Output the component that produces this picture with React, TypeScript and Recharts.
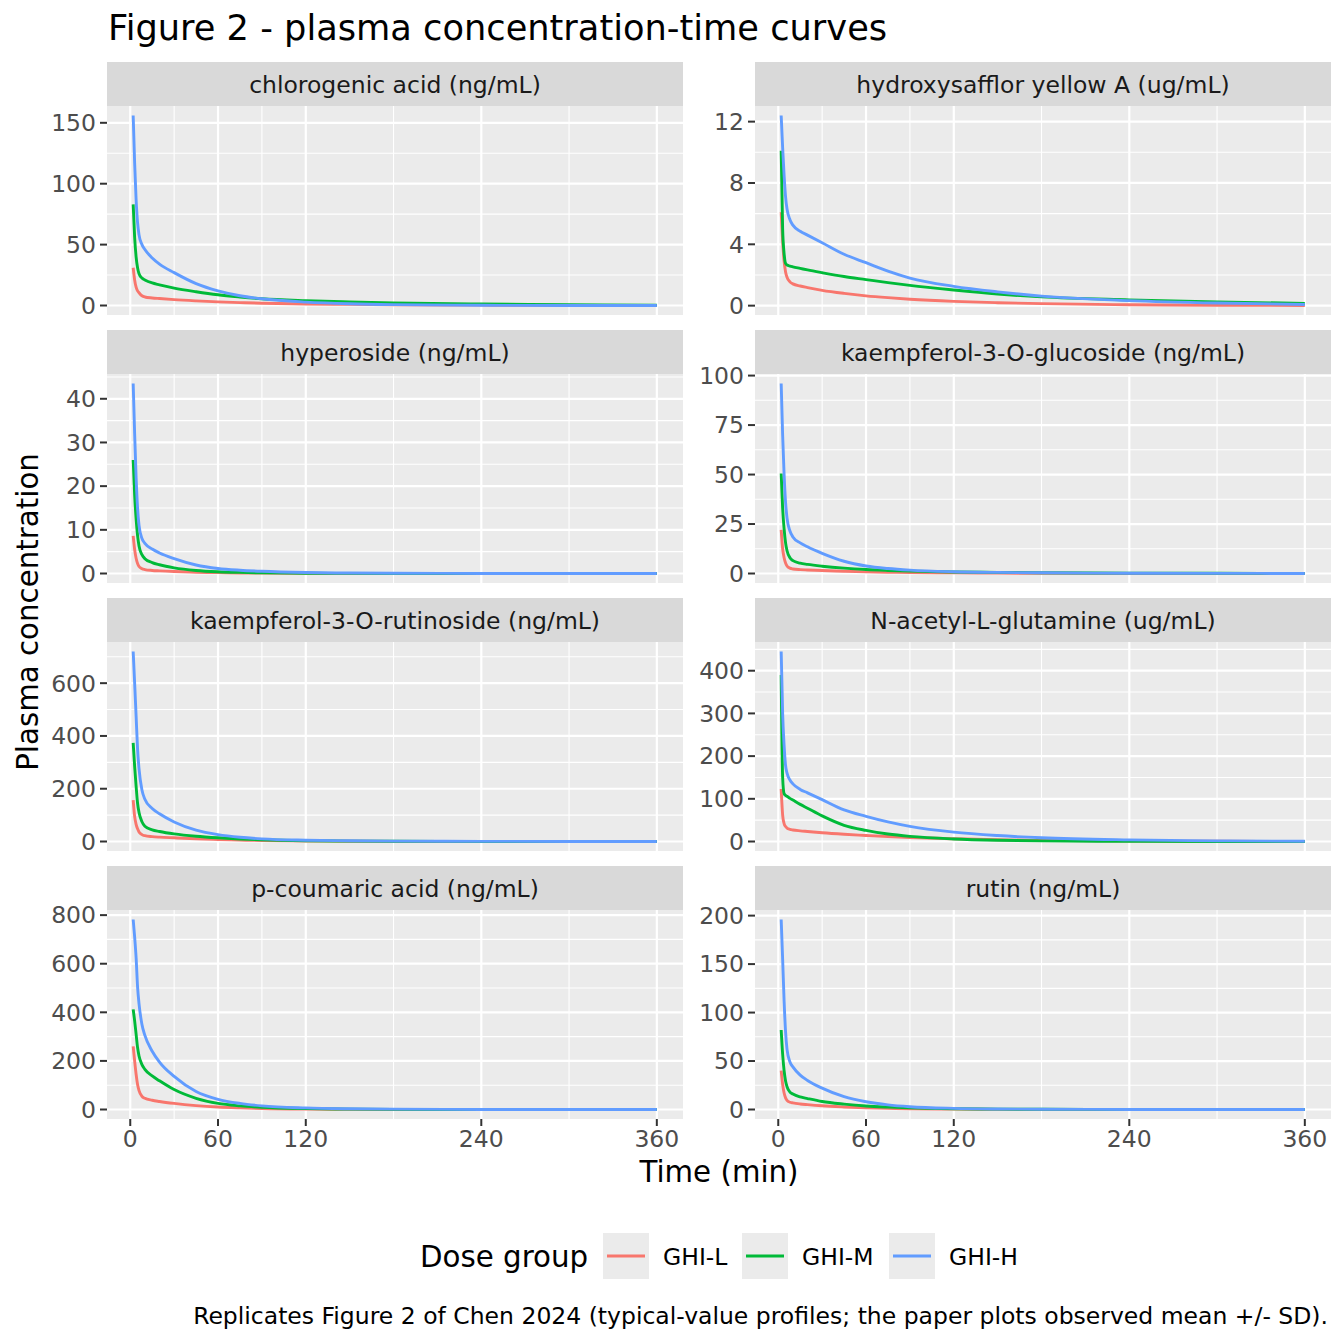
import React from 'react';
import { CartesianGrid, Line, LineChart, XAxis, YAxis } from 'recharts';

// Time grid (min) that the profiles were read at
const TIMES = [2, 3, 4, 5, 6, 8, 10, 15, 20, 30, 45, 60, 75, 90, 120, 150, 180, 240, 300, 360];
const X_TICKS = [0, 60, 120, 240, 360];

const GROUPS = ['GHI-L', 'GHI-M', 'GHI-H'];
const COLORS = ['#F8766D', '#00BA38', '#619CFF'];

const PANEL_TITLES = [
  'chlorogenic acid (ng/mL)',
  'hydroxysafflor yellow A (ug/mL)',
  'hyperoside (ng/mL)',
  'kaempferol-3-O-glucoside (ng/mL)',
  'kaempferol-3-O-rutinoside (ng/mL)',
  'N-acetyl-L-glutamine (ug/mL)',
  'p-coumaric acid (ng/mL)',
  'rutin (ng/mL)',
];

const Y_TICKS = [
  [0, 50, 100, 150],
  [0, 4, 8, 12],
  [0, 10, 20, 30, 40],
  [0, 25, 50, 75, 100],
  [0, 200, 400, 600],
  [0, 100, 200, 300, 400],
  [0, 200, 400, 600, 800],
  [0, 50, 100, 150, 200],
];

// chlorogenic acid
const chlorogenicL = [31, 21, 15, 12, 10.5, 8, 7, 6.2, 5.7, 4.8, 3.8, 3, 2.4, 1.9, 1.3, 0.9, 0.6, 0.3, 0.15, 0.07];
const chlorogenicM = [83, 56, 40, 31, 26, 22.5, 21, 18.5, 17, 14.3, 11.3, 8.8, 7, 5.5, 3.9, 2.9, 2.2, 1.2, 0.6, 0.3];
const chlorogenicH = [156, 117, 87, 68, 58, 50, 46, 39, 34, 27, 18, 12, 8, 5.5, 2.8, 1.4, 0.7, 0.2, 0.05, 0.01];

// hydroxysafflor yellow A
const hsyaL = [6.1, 4.2, 2.9, 2.2, 1.85, 1.55, 1.42, 1.28, 1.18, 1.0, 0.8, 0.64, 0.52, 0.42, 0.28, 0.19, 0.13, 0.06, 0.03, 0.01];
const hsyaM = [10.1, 5.0, 3.4, 2.75, 2.65, 2.58, 2.53, 2.43, 2.33, 2.15, 1.9, 1.7, 1.5, 1.32, 1.02, 0.76, 0.57, 0.38, 0.24, 0.15];
const hsyaH = [12.4, 10.3, 8.5, 7.1, 6.3, 5.6, 5.25, 4.85, 4.6, 4.1, 3.35, 2.8, 2.25, 1.8, 1.26, 0.9, 0.62, 0.33, 0.17, 0.08];

// hyperoside
const hyperosideL = [8.6, 5.5, 3.5, 2.3, 1.6, 1.1, 0.9, 0.7, 0.6, 0.45, 0.3, 0.2, 0.13, 0.08, 0.03, 0.01, 0.005, 0, 0, 0];
const hyperosideM = [26, 18, 12.5, 8.7, 6.3, 4.3, 3.4, 2.5, 2.0, 1.3, 0.7, 0.4, 0.25, 0.15, 0.06, 0.02, 0.01, 0, 0, 0];
const hyperosideH = [43.5, 32, 22, 15, 11, 8, 6.9, 5.6, 4.7, 3.4, 1.95, 1.15, 0.75, 0.5, 0.22, 0.1, 0.05, 0.01, 0, 0];

// kaempferol-3-O-glucoside
const k3gL = [22, 12.5, 8, 5.3, 3.8, 2.7, 2.3, 1.95, 1.8, 1.5, 1.15, 0.85, 0.65, 0.5, 0.3, 0.18, 0.11, 0.04, 0.015, 0.005];
const k3gM = [50.5, 33, 22.5, 15.5, 11.5, 8, 6.5, 5.2, 4.6, 3.7, 2.7, 2.0, 1.55, 1.2, 0.8, 0.55, 0.4, 0.2, 0.1, 0.05];
const k3gH = [96, 70, 50, 36, 28, 21.5, 18.5, 15.5, 13.5, 10.2, 6.2, 3.8, 2.5, 1.7, 0.9, 0.55, 0.35, 0.15, 0.07, 0.03];

// kaempferol-3-O-rutinoside
const k3rL = [157, 95, 65, 48, 36, 26, 22, 18.5, 16.5, 14, 10.5, 7.7, 5.5, 3.8, 2, 1, 0.5, 0.15, 0.05, 0.02];
const k3rM = [374, 285, 210, 145, 110, 75, 58, 44, 38, 29, 20, 14, 9.5, 6.4, 3, 1.5, 0.8, 0.25, 0.08, 0.03];
const k3rH = [720, 600, 475, 350, 275, 195, 160, 125, 105, 74, 43, 26, 16, 10, 5, 2.8, 1.6, 0.5, 0.2, 0.07];

// N-acetyl-L-glutamine
const naglL = [123, 62, 42, 35, 31.5, 28.5, 27, 25, 23.5, 20.5, 17, 14.2, 11.6, 9.5, 6.3, 4, 2.6, 1.1, 0.45, 0.2];
const naglM = [390, 150, 112, 108, 106, 101, 97, 87, 78, 60, 38, 26, 17.5, 12, 6, 3, 1.5, 0.4, 0.1, 0.03];
const naglH = [445, 300, 225, 178, 160, 144, 135, 122, 114, 98, 74, 59, 46, 35.6, 22, 14, 8.7, 3.8, 1.6, 0.7];

// p-coumaric acid
const coumaricL = [260, 200, 145, 103, 78, 54, 46, 38, 33, 25, 16, 10, 6.5, 4, 1.6, 0.7, 0.3, 0.05, 0.01, 0];
const coumaricM = [412, 365, 310, 255, 220, 185, 165, 138, 118, 82, 46, 25, 15, 9, 3.5, 1.4, 0.5, 0.1, 0.02, 0];
const coumaricH = [782, 710, 625, 505, 435, 350, 305, 240, 195, 136, 74, 42, 25, 15, 6.5, 3, 1.4, 0.3, 0.07, 0.02];

// rutin
const rutinL = [40, 26, 17, 12, 9.5, 7.5, 6.8, 5.7, 5, 3.8, 2.6, 1.7, 1.2, 0.8, 0.35, 0.15, 0.07, 0.01, 0, 0];
const rutinM = [82, 57, 40, 29.5, 23.5, 18, 16, 13, 11.3, 8.2, 5.5, 3.6, 2.5, 1.7, 0.8, 0.4, 0.2, 0.05, 0.01, 0];
const rutinH = [196, 155, 112, 80, 62, 49, 44, 35.5, 30, 22, 13.2, 8, 4.8, 2.9, 1.2, 0.5, 0.2, 0.04, 0.01, 0];

const PANEL_SERIES = [
  [chlorogenicL, chlorogenicM, chlorogenicH],
  [hsyaL, hsyaM, hsyaH],
  [hyperosideL, hyperosideM, hyperosideH],
  [k3gL, k3gM, k3gH],
  [k3rL, k3rM, k3rH],
  [naglL, naglM, naglH],
  [coumaricL, coumaricM, coumaricH],
  [rutinL, rutinM, rutinH],
];

const FONT = '"DejaVu Sans", "Liberation Sans", sans-serif';
const COL_X = [107, 755];
const ROW_Y = [106, 374, 642, 910];
const PANEL_W = 576;
const PANEL_H = 209;
const STRIP_H = 44;
const Y_AXIS_W = 60;
const X_AXIS_H = 50;
const PAD = 14; // room so the top/bottom tick labels are not clipped
const KEY_X = [603, 742, 889];

// ggplot-style 5% expansion
function expand(lo: number, hi: number): [number, number] {
  const pad = (hi - lo) * 0.05;
  return [lo - pad, hi + pad];
}

// minor breaks halfway between majors (and half a step past the ends if in range)
function minorBreaks(ticks: number[], lo: number, hi: number) {
  const out: number[] = [];
  for (let i = 0; i < ticks.length - 1; i++) out.push((ticks[i] + ticks[i + 1]) / 2);
  const first = ticks[0] - (ticks[1] - ticks[0]) / 2;
  const n = ticks.length;
  const last = ticks[n - 1] + (ticks[n - 1] - ticks[n - 2]) / 2;
  return [first, ...out, last].filter((v) => v >= lo && v <= hi);
}

const X_DOMAIN = expand(Math.min(...TIMES), Math.max(...TIMES));
const X_MINOR = minorBreaks(X_TICKS, X_DOMAIN[0], X_DOMAIN[1]);

const tickStyle = { fill: '#4D4D4D', fontSize: 23.5, fontFamily: FONT };

function Panel({ idx }: { idx: number }) {
  const row = Math.floor(idx / 2);
  const col = idx % 2;
  const series = PANEL_SERIES[idx];
  const rows = TIMES.map((t, i) => ({ t, L: series[0][i], M: series[1][i], H: series[2][i] }));
  const all = series.flat();
  const yDomain = expand(Math.min(...all), Math.max(...all));
  const yTicks = Y_TICKS[idx];
  const yMinor = minorBreaks(yTicks, yDomain[0], yDomain[1]);
  const isBottom = row === 3;

  return (
    <div style={{ position: 'absolute', left: COL_X[col] - Y_AXIS_W, top: ROW_Y[row] - PAD }}>
      <LineChart
        width={Y_AXIS_W + PANEL_W}
        height={PANEL_H + PAD + (isBottom ? X_AXIS_H : PAD)}
        data={rows}
        margin={{ top: PAD, right: 0, bottom: isBottom ? 0 : PAD, left: 0 }}
      >
        <CartesianGrid
          fill="#EBEBEB"
          stroke="#FFFFFF"
          strokeWidth={1.1}
          horizontalValues={yMinor}
          verticalValues={X_MINOR}
        />
        <CartesianGrid stroke="#FFFFFF" strokeWidth={2.2} horizontalValues={yTicks} verticalValues={X_TICKS} />
        <XAxis
          type="number"
          dataKey="t"
          domain={X_DOMAIN}
          ticks={X_TICKS}
          interval={0}
          allowDataOverflow
          hide={!isBottom}
          height={X_AXIS_H}
          axisLine={false}
          tickSize={7}
          tickMargin={4}
          tickLine={{ stroke: '#333333', strokeWidth: 2 }}
          tick={tickStyle}
        />
        <YAxis
          type="number"
          domain={yDomain}
          ticks={yTicks}
          interval={0}
          allowDataOverflow
          width={Y_AXIS_W}
          axisLine={false}
          tickSize={7}
          tickMargin={4}
          tickLine={{ stroke: '#333333', strokeWidth: 2 }}
          tick={tickStyle}
        />
        {GROUPS.map((g, i) => (
          <Line
            key={g}
            dataKey={['L', 'M', 'H'][i]}
            name={g}
            type="monotone"
            stroke={COLORS[i]}
            strokeWidth={2.9}
            strokeLinejoin="round"
            dot={false}
            activeDot={false}
            isAnimationActive={false}
          />
        ))}
      </LineChart>
    </div>
  );
}

export default function App() {
  return (
    <div
      style={{
        position: 'absolute',
        left: 0,
        top: 0,
        width: 1344,
        height: 1344,
        background: '#FFFFFF',
        fontFamily: FONT,
        overflow: 'hidden',
      }}
    >
      <svg width={1344} height={1344} style={{ position: 'absolute', left: 0, top: 0 }} fontFamily={FONT}>
        <text x={108} y={40} fontSize={35.2} fill="#000">
          Figure 2 - plasma concentration-time curves
        </text>
        {PANEL_TITLES.map((title, idx) => {
          const x = COL_X[idx % 2];
          const y = ROW_Y[Math.floor(idx / 2)] - STRIP_H;
          return (
            <g key={title}>
              <rect x={x} y={y} width={PANEL_W} height={STRIP_H} fill="#D9D9D9" />
              <text x={x + PANEL_W / 2} y={y + STRIP_H / 2 + 8.6} fontSize={23.5} fill="#1A1A1A" textAnchor="middle">
                {title}
              </text>
            </g>
          );
        })}
        <text x={719} y={1182} fontSize={29.3} fill="#000" textAnchor="middle">
          Time (min)
        </text>
        <text
          x={0}
          y={0}
          fontSize={29.3}
          fill="#000"
          textAnchor="middle"
          transform="translate(37.5 612) rotate(-90)"
        >
          Plasma concentration
        </text>
        <text x={420} y={1267} fontSize={29.3} fill="#000">
          Dose group
        </text>
        {GROUPS.map((g, i) => (
          <g key={g}>
            <rect x={KEY_X[i]} y={1233} width={46} height={46} fill="#EBEBEB" />
            <line x1={KEY_X[i] + 4} x2={KEY_X[i] + 42} y1={1256} y2={1256} stroke={COLORS[i]} strokeWidth={2.9} />
            <text x={KEY_X[i] + 60} y={1265} fontSize={23.5} fill="#000">
              {g}
            </text>
          </g>
        ))}
        <text x={1328} y={1324} fontSize={23.5} fill="#000" textAnchor="end">
          Replicates Figure 2 of Chen 2024 (typical-value profiles; the paper plots observed mean +/- SD).
        </text>
      </svg>
      {PANEL_TITLES.map((title, idx) => (
        <Panel key={title} idx={idx} />
      ))}
    </div>
  );
}
